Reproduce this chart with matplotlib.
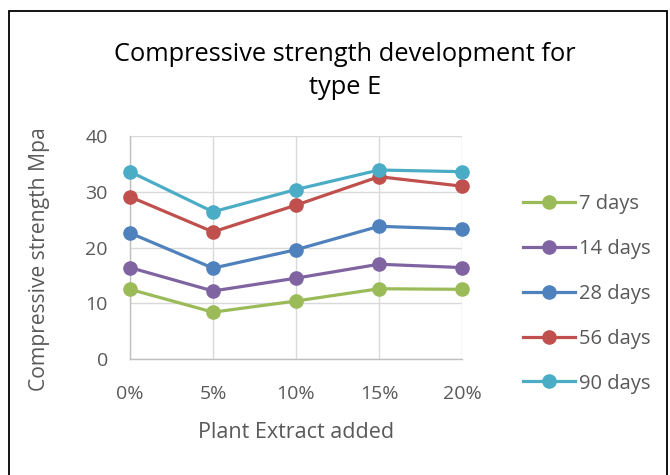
import matplotlib
matplotlib.use("Agg")
import matplotlib.pyplot as plt
from matplotlib.patches import Rectangle
from matplotlib.lines import Line2D

categories = ["0%", "5%", "10%", "15%", "20%"]
series_names = ["7 days", "14 days", "28 days", "56 days", "90 days"]
days7 = [12.5, 8.4, 10.4, 12.6, 12.5]
days14 = [16.4, 12.2, 14.5, 17.0, 16.4]
days28 = [22.6, 16.3, 19.6, 23.8, 23.3]
days56 = [29.1, 22.8, 27.6, 32.7, 31.0]
days90 = [33.6, 26.4, 30.4, 33.9, 33.6]
colors = ["#9BBB59", "#8064A2", "#4F81BD", "#C0504D", "#4BACC6"]
yticks = [0, 10, 20, 30, 40]

plt.rcParams['font.family'] = ['Open Sans', 'DejaVu Sans']

fig = plt.figure(figsize=(6.70, 4.75), dpi=100)
fig.patches.append(Rectangle((9/670, -0.1), (667-9)/670, 1.1 - 11/475,
                             transform=fig.transFigure, fill=False,
                             edgecolor="black", linewidth=1.3))
ax = fig.add_axes([130/670, 1-359/475, (462-130)/670, (359-136)/475])

x = list(range(len(categories)))
all_series = [days7, days14, days28, days56, days90]
for name, vals, c in zip(series_names, all_series, colors):
    ax.plot(x, vals, color=c, linewidth=2.3, marker='o', markersize=9.5,
            label=name, solid_capstyle='round', zorder=3, clip_on=False)

ax.set_xlim(0, 4)
ax.set_ylim(0, 40)
ax.set_xticks(x)
ax.set_xticklabels(categories)
ax.set_yticks(yticks)
ax.grid(True, color="#D9D9D9", linewidth=1.0)
ax.set_axisbelow(True)
for s in ["top", "right"]:
    ax.spines[s].set_visible(False)
for s in ["left", "bottom"]:
    ax.spines[s].set_color("#BFBFBF")
    ax.spines[s].set_linewidth(1.0)
ax.tick_params(axis='x', length=0, labelsize=14, labelcolor="#595959", pad=19)
ax.tick_params(axis='y', length=0, labelsize=14, labelcolor="#595959", pad=16)

ax.set_xlabel("Plant Extract added", fontsize=15.5, color="#595959", va='center')
ax.xaxis.set_label_coords((296-130)/332, (359-432)/223)
ax.set_ylabel("Compressive strength Mpa", fontsize=15.2, color="#595959", va='center')
ax.yaxis.set_label_coords((40-130)/332, (359-259)/223)

fig.text(345/670, 1-71/475, "Compressive strength development for\ntype E",
         ha='center', va='center', fontsize=18.3, color="black", linespacing=1.45)

handles = [Line2D([0], [0], color=c, linewidth=2.3, marker='o', markersize=9.5)
           for c in colors]
fig.legend(handles, series_names, loc='center left',
           bbox_to_anchor=(515/670, 1-294/475), frameon=False,
           fontsize=14.5, labelcolor="#595959", handlelength=2.6,
           handletextpad=0.2, labelspacing=1.23, borderaxespad=0)

fig.savefig("out.png", dpi=100)
